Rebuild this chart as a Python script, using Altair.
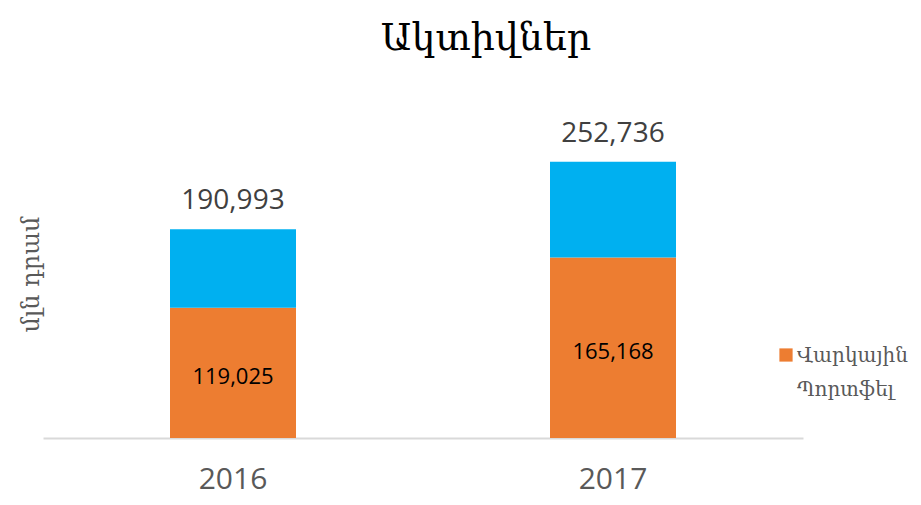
import altair as alt
import pandas as pd

years = ["2016", "2017"]
loan_portfolio = [119025, 165168]
total_assets = [190993, 252736]
legend_label = "Վարկային Պորտֆել"

df = pd.DataFrame({
    "year": years,
    "loan": loan_portfolio,
    "total": total_assets,
})
df["loan_txt"] = [f"{v:,}" for v in loan_portfolio]
df["total_txt"] = [f"{v:,}" for v in total_assets]
leg = pd.DataFrame({"label": [legend_label]})

x = alt.X("year:N", title=None,
          scale=alt.Scale(paddingInner=0.668, paddingOuter=0.334),
          axis=alt.Axis(labelAngle=0, labelFontSize=30, labelFont="Open Sans",
                        labelColor="#595959", labelPadding=26, ticks=False,
                        domain=True, domainColor="#d9d9d9", domainWidth=2))
yscale = alt.Scale(domain=[0, 300000], nice=False)

base = alt.Chart(df)

orange = base.mark_bar(size=126, color="#ED7D31").encode(
    x=x,
    y=alt.Y("loan:Q", scale=yscale, title="մլն դրամ",
            axis=alt.Axis(labels=False, ticks=False, domain=False, grid=False,
                          titleFont="DejaVu Serif", titleFontSize=24,
                          titleFontWeight="normal", titleColor="#595959",
                          titlePadding=0)),
)

blue = base.mark_bar(size=126, color="#00B0F0").encode(
    x=x,
    y=alt.Y("loan:Q", scale=yscale),
    y2="total:Q",
)

total_text = base.mark_text(baseline="bottom", dy=-14, fontSize=28,
                            font="Open Sans", color="#404040").encode(
    x=x, y=alt.Y("total:Q", scale=yscale), text="total_txt:N")

loan_text = base.mark_text(baseline="middle", dy=4, fontSize=22,
                           font="Open Sans", color="#000000").encode(
    x=x, y=alt.Y("mid:Q", scale=yscale), text="loan_txt:N"
).transform_calculate(mid="datum.loan / 2")

leg_sym = alt.Chart(leg).mark_square(size=175, color="#ED7D31", opacity=1).encode(
    x=alt.value(743), y=alt.value(245))

leg_txt = alt.Chart(leg).transform_calculate(
    lines="split(datum.label, ' ')"
).mark_text(align="left", baseline="alphabetic", font="DejaVu Serif",
            fontSize=20, color="#595959", lineHeight=34).encode(
    x=alt.value(754), y=alt.value(252), text="lines:N")

chart = alt.layer(orange, blue, total_text, loan_text, leg_sym, leg_txt).properties(
    width=760, height=328,
    autosize=alt.AutoSizeParams(type="none"),
    padding={"left": 35, "top": 102, "right": 110, "bottom": 59},
    title=alt.TitleParams("Ակտիվներ", font="DejaVu Serif", fontSize=38,
                          fontWeight="normal", color="#000000",
                          anchor="middle", dx=63, offset=52),
).configure_view(stroke=None)

chart.save("out.html", embed_options={"renderer": "svg", "actions": False})
